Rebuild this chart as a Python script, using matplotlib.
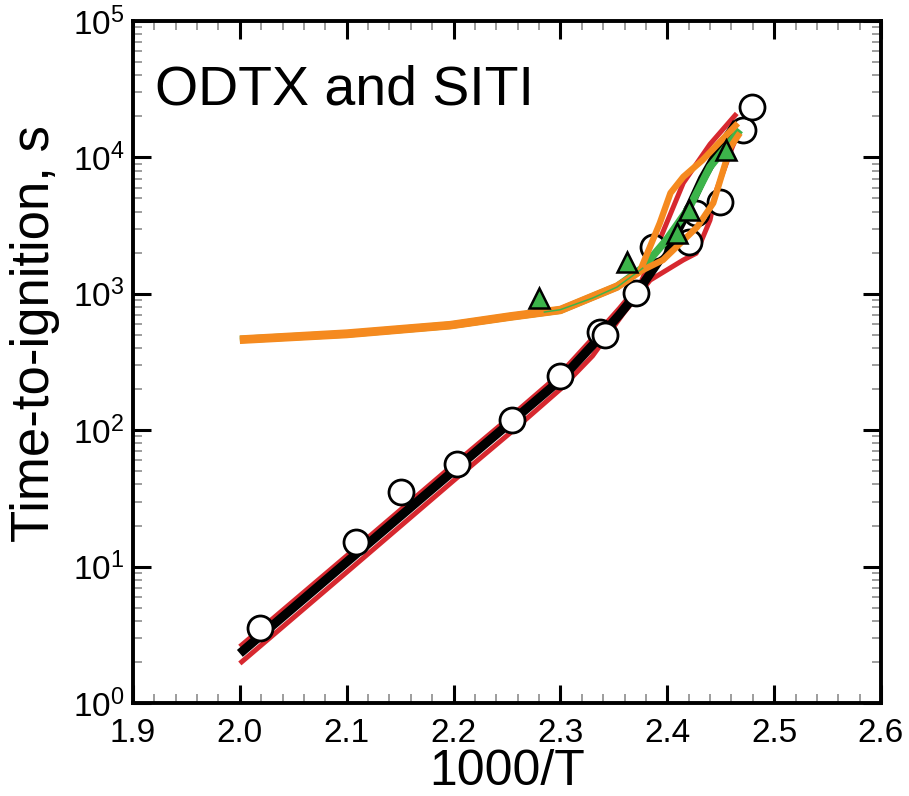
import numpy as np
import matplotlib
matplotlib.use("Agg")
import matplotlib.pyplot as plt
from matplotlib.ticker import MultipleLocator, LogLocator, FormatStrFormatter, NullFormatter

plt.rcParams["font.family"] = ["Liberation Sans", "DejaVu Sans"]
plt.rcParams["mathtext.default"] = "regular"

# ========= DATA =========
# open circles: measured ignition times
circ_x = [2.019, 2.109, 2.151, 2.203, 2.255, 2.300, 2.337, 2.342, 2.371,
          2.387, 2.420, 2.427, 2.449, 2.471, 2.479]
circ_y = [3.55, 15.1, 35.2, 56.5, 119, 250, 525, 499, 1014,
          2214, 2410, 3900, 4730, 15900, 23500]

# green triangles
tri_x = [2.280, 2.362, 2.409, 2.420, 2.455]
tri_y = [927, 1720, 2775, 4115, 11330]

# black model curve
black_x = [2.00, 2.10, 2.20, 2.256, 2.30, 2.33, 2.355, 2.371, 2.39, 2.403,
           2.42, 2.433, 2.45, 2.465]
black_y = [2.31, 10.8, 50.5, 119, 234, 420, 700, 1000, 1650, 2300,
           4200, 7000, 12000, 18000]

# red bounds
red_hi_x = [2.00, 2.10, 2.20, 2.256, 2.30, 2.33, 2.355, 2.375, 2.393, 2.415, 2.44, 2.465]
red_hi_y = [2.59, 12.0, 56, 131, 260, 470, 780, 1200, 2500, 6500, 12500, 21000]
red_lo_x = [2.00, 2.10, 2.20, 2.256, 2.30, 2.33, 2.359, 2.384, 2.415, 2.427, 2.440,
            2.446, 2.461, 2.468]
red_lo_y = [1.95, 9.1, 42.7, 100, 200, 350, 720, 1260, 1770, 1980, 3470,
            5750, 12000, 15900]

# orange curves
orA_x = [2.00, 2.10, 2.197, 2.253, 2.30, 2.353, 2.374, 2.393, 2.403, 2.415, 2.433, 2.466]
orA_y = [452, 498, 578, 668, 748, 1110, 1440, 3300, 5480, 7200, 9560, 17800]
orB_x = [2.00, 2.10, 2.197, 2.253, 2.30, 2.353, 2.376, 2.396, 2.428, 2.443, 2.459, 2.468]
orB_y = [470, 520, 600, 695, 775, 1150, 1480, 1770, 3090, 4630, 11900, 15100]

# green curve (thick) and its thin visible trace over the orange band
grn_x = [2.00, 2.10, 2.197, 2.253, 2.30, 2.353, 2.377, 2.399, 2.421, 2.440, 2.468]
grn_y = [462, 508, 588, 680, 760, 1130, 1550, 2470, 4350, 8530, 15900]
grn_thin_x = [2.285, 2.30, 2.33, 2.353, 2.377]
grn_thin_y = [735, 765, 930, 1120, 1540]

RED = "#d7282f"
ORANGE = "#f58a1f"
GREEN = "#3cb44a"

fig = plt.figure(figsize=(9.09, 7.96), dpi=100)
ax = fig.add_axes([133 / 909, 93 / 796, 748 / 909, 682 / 796])

ax.plot(red_hi_x, red_hi_y, color=RED, lw=3.6, zorder=2, solid_capstyle="butt")
ax.plot(red_lo_x, red_lo_y, color=RED, lw=3.6, zorder=2, solid_capstyle="butt")
ax.plot(black_x, black_y, color="black", lw=6.5, zorder=3, solid_capstyle="butt")
ax.plot(circ_x, circ_y, "o", ms=18, mfc="white", mec="black", mew=2.0,
        ls="none", zorder=4)
ax.plot(grn_x, grn_y, color=GREEN, lw=5.5, zorder=5, solid_capstyle="butt")
ax.plot(orA_x, orA_y, color=ORANGE, lw=4.6, zorder=6, solid_capstyle="butt")
ax.plot(orB_x, orB_y, color=ORANGE, lw=4.6, zorder=6, solid_capstyle="butt")
ax.plot(grn_thin_x, grn_thin_y, color=GREEN, lw=1.1, zorder=6.5)
ax.plot(tri_x, tri_y, "^", ms=15, mfc=GREEN, mec="black", mew=1.8,
        ls="none", zorder=7)

ax.set_xlim(1.9, 2.6)
ax.set_yscale("log")
ax.set_ylim(1, 1e5)

ax.xaxis.set_major_locator(MultipleLocator(0.1))
ax.xaxis.set_minor_locator(MultipleLocator(0.02))
ax.xaxis.set_major_formatter(FormatStrFormatter("%.1f"))
ax.yaxis.set_major_locator(LogLocator(base=10, numticks=10))
ax.yaxis.set_minor_locator(LogLocator(base=10, subs=np.arange(2, 10), numticks=20))
ax.yaxis.set_minor_formatter(NullFormatter())

for sp in ax.spines.values():
    sp.set_linewidth(2.8)
ax.tick_params(which="major", direction="in", length=13, width=2.2,
               top=True, right=True, labelsize=24, colors="black")
ax.tick_params(axis="x", which="major", pad=11)
ax.tick_params(axis="y", which="major", pad=6)
ax.tick_params(which="minor", direction="in", length=6.5, width=1.2,
               top=True, right=True, color="#8c8c8c")

ax.set_xlabel("1000/T", fontsize=36, labelpad=0)
ax.set_ylabel("Time-to-ignition, s", fontsize=38)
ax.yaxis.set_label_coords(-0.098, 0.541)
ax.text(0.029, 0.877, "ODTX and SITI", transform=ax.transAxes,
        fontsize=40, ha="left", va="baseline")

fig.savefig("out.png", dpi=100)
